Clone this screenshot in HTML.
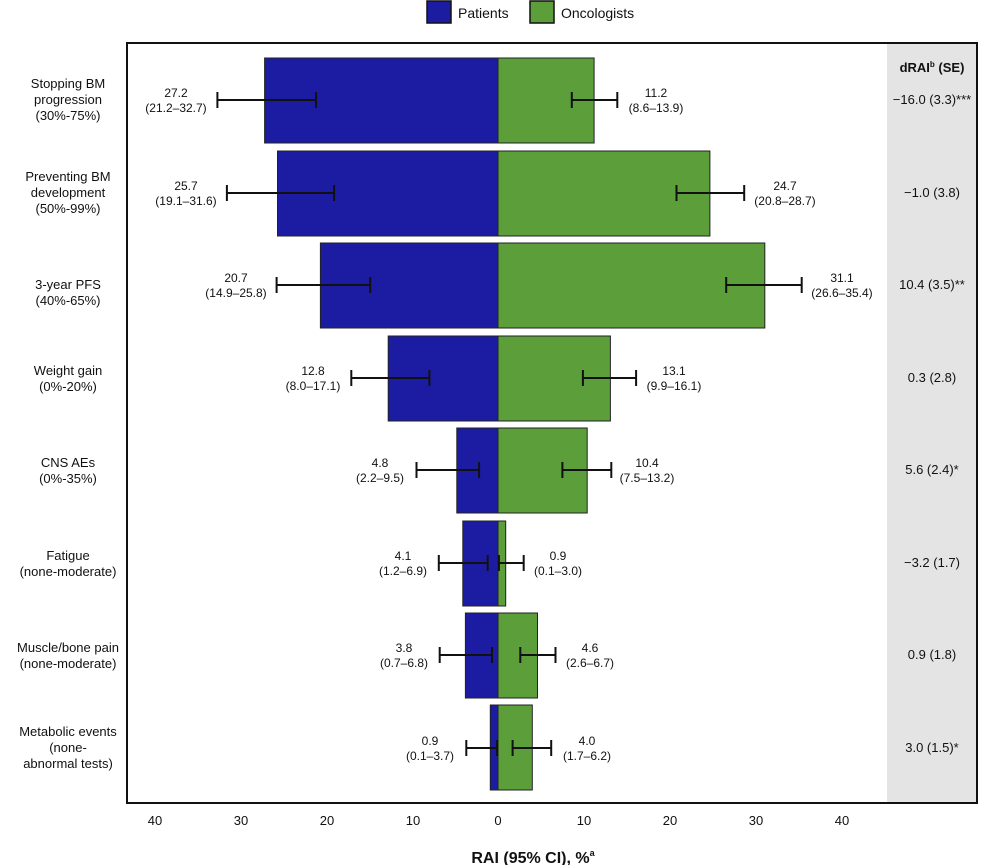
<!DOCTYPE html>
<html><head><meta charset="utf-8"><style>
html,body{margin:0;padding:0;background:#fff}
svg{display:block;font-family:"Liberation Sans",Arial,sans-serif}
</style></head><body>
<svg width="994" height="865" viewBox="0 0 994 865" xmlns="http://www.w3.org/2000/svg">
<!-- legend -->
<rect x="427" y="1" width="24" height="22" fill="#1c1ca3" stroke="#111" stroke-width="1.5"/>
<text x="458" y="18" font-size="14" fill="#111">Patients</text>
<rect x="530" y="1" width="24" height="22" fill="#5b9e3a" stroke="#111" stroke-width="1.5"/>
<text x="561" y="18" font-size="14" fill="#111">Oncologists</text>
<!-- gray panel -->
<rect x="887" y="43" width="90" height="760" fill="#e4e4e4"/>
<g font-size="13" fill="#111" text-anchor="middle">
<text x="932" y="72" font-weight="bold">dRAI<tspan font-size="8" dy="-5">b</tspan><tspan dy="5"> (SE)</tspan></text>
<text x="932" y="104">−16.0 (3.3)***</text>
<text x="932" y="197">−1.0 (3.8)</text>
<text x="932" y="289">10.4 (3.5)**</text>
<text x="932" y="382">0.3 (2.8)</text>
<text x="932" y="474">5.6 (2.4)*</text>
<text x="932" y="567">−3.2 (1.7)</text>
<text x="932" y="659">0.9 (1.8)</text>
<text x="932" y="752">3.0 (1.5)*</text>
</g>
<!-- bars -->
<g stroke="#222" stroke-width="1">
<rect x="264.6" y="58" width="233.4" height="85" fill="#1c1ca3"/><rect x="498" y="58" width="96.1" height="85" fill="#5b9e3a"/>
<rect x="277.5" y="151" width="220.5" height="85" fill="#1c1ca3"/><rect x="498" y="151" width="211.9" height="85" fill="#5b9e3a"/>
<rect x="320.4" y="243" width="177.6" height="85" fill="#1c1ca3"/><rect x="498" y="243" width="266.8" height="85" fill="#5b9e3a"/>
<rect x="388.2" y="336" width="109.8" height="85" fill="#1c1ca3"/><rect x="498" y="336" width="112.4" height="85" fill="#5b9e3a"/>
<rect x="456.8" y="428" width="41.2" height="85" fill="#1c1ca3"/><rect x="498" y="428" width="89.2" height="85" fill="#5b9e3a"/>
<rect x="462.8" y="521" width="35.2" height="85" fill="#1c1ca3"/><rect x="498" y="521" width="7.7" height="85" fill="#5b9e3a"/>
<rect x="465.4" y="613" width="32.6" height="85" fill="#1c1ca3"/><rect x="498" y="613" width="39.5" height="85" fill="#5b9e3a"/>
<rect x="490.3" y="705" width="7.7" height="85" fill="#1c1ca3"/><rect x="498" y="705" width="34.3" height="85" fill="#5b9e3a"/>
</g>
<!-- error bars -->
<g stroke="#111" stroke-width="2" fill="none">
<path d="M217.4 100H316.1M217.4 92V108M316.1 92V108M571.8 100H617.3M571.8 92V108M617.3 92V108"/>
<path d="M226.9 193H334.1M226.9 185V201M334.1 185V201M676.5 193H744.2M676.5 185V201M744.2 185V201"/>
<path d="M276.6 285H370.2M276.6 277V293M370.2 277V293M726.2 285H801.7M726.2 277V293M801.7 277V293"/>
<path d="M351.3 378H429.4M351.3 370V386M429.4 370V386M582.9 378H636.1M582.9 370V386M636.1 370V386"/>
<path d="M416.5 470H479.1M416.5 462V478M479.1 462V478M562.4 470H611.3M562.4 462V478M611.3 462V478"/>
<path d="M438.8 563H487.7M438.8 555V571M487.7 555V571M498.9 563H523.7M498.9 555V571M523.7 555V571"/>
<path d="M439.7 655H492M439.7 647V663M492 647V663M520.3 655H555.5M520.3 647V663M555.5 647V663"/>
<path d="M466.3 748H497.1M466.3 740V756M497.1 740V756M512.6 748H551.2M512.6 740V756M551.2 740V756"/>
</g>
<!-- value labels -->
<g font-size="12" fill="#111" text-anchor="middle">
<text x="176" y="97">27.2</text><text x="176" y="112">(21.2–32.7)</text>
<text x="656" y="97">11.2</text><text x="656" y="112">(8.6–13.9)</text>
<text x="186" y="190">25.7</text><text x="186" y="205">(19.1–31.6)</text>
<text x="785" y="190">24.7</text><text x="785" y="205">(20.8–28.7)</text>
<text x="236" y="282">20.7</text><text x="236" y="297">(14.9–25.8)</text>
<text x="842" y="282">31.1</text><text x="842" y="297">(26.6–35.4)</text>
<text x="313" y="375">12.8</text><text x="313" y="390">(8.0–17.1)</text>
<text x="674" y="375">13.1</text><text x="674" y="390">(9.9–16.1)</text>
<text x="380" y="467">4.8</text><text x="380" y="482">(2.2–9.5)</text>
<text x="647" y="467">10.4</text><text x="647" y="482">(7.5–13.2)</text>
<text x="403" y="560">4.1</text><text x="403" y="575">(1.2–6.9)</text>
<text x="558" y="560">0.9</text><text x="558" y="575">(0.1–3.0)</text>
<text x="404" y="652">3.8</text><text x="404" y="667">(0.7–6.8)</text>
<text x="590" y="652">4.6</text><text x="590" y="667">(2.6–6.7)</text>
<text x="430" y="745">0.9</text><text x="430" y="760">(0.1–3.7)</text>
<text x="587" y="745">4.0</text><text x="587" y="760">(1.7–6.2)</text>
</g>
<!-- frame -->
<rect x="127" y="43" width="850" height="760" fill="none" stroke="#111" stroke-width="2"/>
<!-- category labels -->
<g font-size="13" fill="#111" text-anchor="middle">
<text x="68" y="88">Stopping BM</text><text x="68" y="104">progression</text><text x="68" y="120">(30%-75%)</text>
<text x="68" y="181">Preventing BM</text><text x="68" y="197">development</text><text x="68" y="213">(50%-99%)</text>
<text x="68" y="289">3-year PFS</text><text x="68" y="305">(40%-65%)</text>
<text x="68" y="375">Weight gain</text><text x="68" y="391">(0%-20%)</text>
<text x="68" y="467">CNS AEs</text><text x="68" y="483">(0%-35%)</text>
<text x="68" y="560">Fatigue</text><text x="68" y="576">(none-moderate)</text>
<text x="68" y="652">Muscle/bone pain</text><text x="68" y="668">(none-moderate)</text>
<text x="68" y="736">Metabolic events</text><text x="68" y="752">(none-</text><text x="68" y="768">abnormal tests)</text>
</g>
<!-- ticks -->
<g font-size="13" fill="#111" text-anchor="middle">
<text x="155" y="825">40</text><text x="241" y="825">30</text><text x="327" y="825">20</text><text x="413" y="825">10</text><text x="498" y="825">0</text><text x="584" y="825">10</text><text x="670" y="825">20</text><text x="756" y="825">30</text><text x="842" y="825">40</text>
<text x="533" y="863" font-size="16" font-weight="bold">RAI (95% CI), %<tspan font-size="9" dy="-7">a</tspan></text>
</g>
</svg>
</body></html>
